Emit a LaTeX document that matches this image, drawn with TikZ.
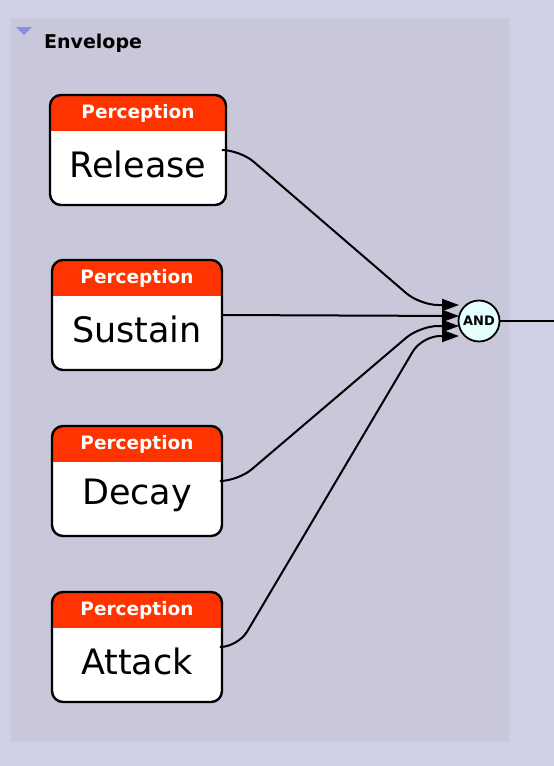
\documentclass[tikz,border=0pt]{standalone}
\usepackage{fontspec}
\setmainfont{DejaVu Sans}
\usetikzlibrary{arrows.meta}
\definecolor{outerbg}{HTML}{CFCFE6}
\definecolor{innerbg}{HTML}{C9C8DB}
\definecolor{hdr}{HTML}{FF3300}
\definecolor{tri}{HTML}{8F8FE8}
\definecolor{andfill}{HTML}{E6FFFF}
\tikzset{
  percbox/.style={draw=black, line width=2.4pt, rounded corners=11pt},
  hdrtext/.style={text=white, font=\bfseries\fontsize{18.5}{20}\selectfont},
  maintext/.style={text=black, font=\fontsize{35}{40}\selectfont},
  conn/.style={line width=2pt, rounded corners=18pt, -{Triangle[length=17pt,width=12pt]}},
}
\begin{document}
\begin{tikzpicture}[x=1pt,y=-1pt]
\useasboundingbox (0,0) rectangle (554,766);
\fill[outerbg] (0,0) rectangle (554,766);
\fill[innerbg] (11,18) rectangle (509,742);
\fill[tri] (16,27) -- (32,27) -- (24,35) -- cycle;
\node[anchor=west, inner sep=0pt, font=\bfseries\fontsize{19}{20}\selectfont] (title) at (44,43) {Envelope};
% boxes
\foreach \n/\t/\xa/\xb/\ya in {rel/Release/50/226/95, sus/Sustain/52/222/260, dec/Decay/52/222/426, att/Attack/52/222/592}{
  \pgfmathsetmacro{\yb}{\ya+110}
  \pgfmathsetmacro{\yh}{\ya+36}
  \pgfmathsetmacro{\xm}{(\xa+\xb)/2}
  \pgfmathsetmacro{\ym}{\ya+55}
  \begin{scope}
    \clip[rounded corners=11pt] (\xa,\ya) rectangle (\xb,\yb);
    \fill[white] (\xa,\ya) rectangle (\xb,\yb);
    \fill[hdr] (\xa,\ya) rectangle (\xb,\yh);
  \end{scope}
  \node[percbox, minimum width={\xb-\xa}, minimum height=110, inner sep=0pt, outer sep=0pt] (\n) at (\xm,\ym) {};
  \node[hdrtext, inner sep=0pt] (\n h) at (\xm,\ya+18) {Perception};
  \node[maintext, inner sep=0pt] (\n t) at (\xm,\ya+69) {\t};
}
% AND node
\node[circle, draw=black, line width=1.8pt, fill=andfill, minimum size=41pt, inner sep=0pt, font=\bfseries\fontsize{13}{14}\selectfont] (and) at (479,321) {AND};
\coordinate (out) at (554,321);
\draw[line width=2pt] (and.east) -- (out);
\coordinate (e1) at (459,305);
\coordinate (e2) at (459,316);
\coordinate (e3) at (459,326);
\coordinate (e4) at (459,336);
\draw[conn] (rel.east) -- ++(14,0) -- (420,305) -- (e1);
\draw[conn] (sus.east) -- (e2);
\draw[conn] (dec.east) -- ++(16,0) -- (420,326) -- (e3);
\draw[conn] (att.east) -- ++(16,0) -- (422,336) -- (e4);
\end{tikzpicture}
\end{document}
